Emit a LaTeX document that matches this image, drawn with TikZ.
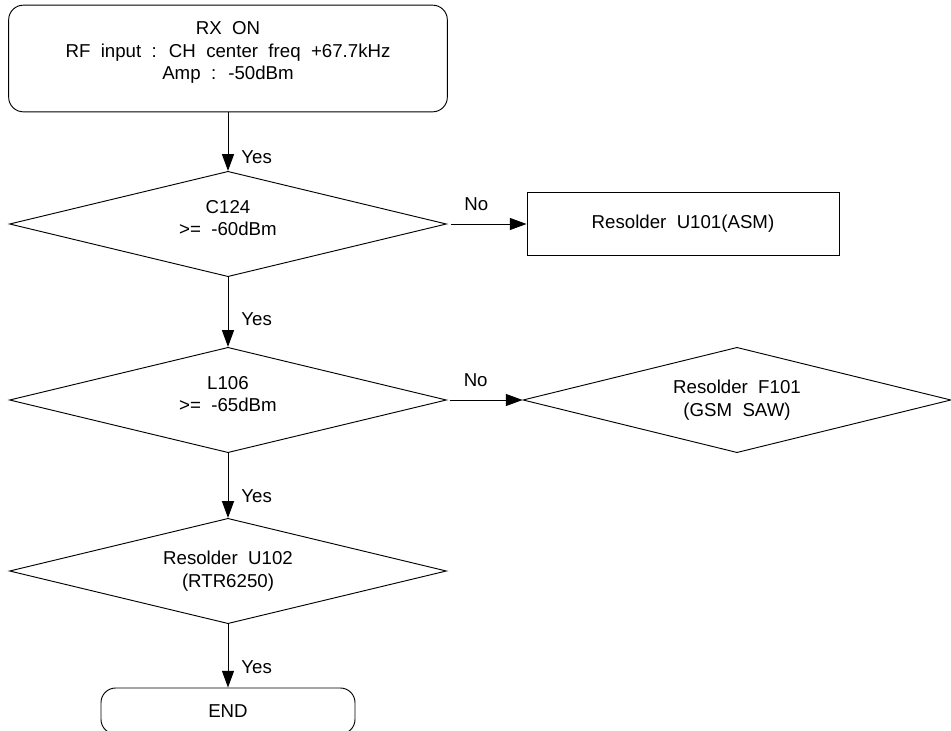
\documentclass[tikz,border=0pt]{standalone}
\usepackage{fontspec}
\setmainfont{Liberation Sans}[WordSpace=2]
\usetikzlibrary{arrows.meta,shapes.geometric}

\begin{document}
\begin{tikzpicture}[>={Triangle[length=12.5pt,width=9pt]}, x=0.75pt, y=-0.75pt, line width=0.7pt,
  every node/.style={font=\fontsize{14}{17}\selectfont, align=center},
  startbox/.style={draw, rounded corners=11pt, minimum width=329pt, minimum height=80pt, inner sep=0pt},
  testbox/.style={draw, diamond, aspect=4, minimum width=327.75pt, minimum height=79pt, inner sep=0pt},
  fixbox/.style={draw, rectangle, minimum width=234pt, minimum height=47pt, inner sep=0pt},
  uptext/.style={label={[inner sep=0pt, yshift=4.5pt]center:{#1}}},
  yeslabel/.style={anchor=west, inner sep=0pt, xshift=9.75pt},
  nolabel/.style={anchor=south, inner sep=0pt, yshift=10pt}]
\useasboundingbox (0,0) rectangle (951,731);

% main column
\node[startbox, uptext={RX ON\\RF input : CH center freq +67.7kHz\\Amp : -50dBm}] (rxon) at (228,58.5) {};
\node[testbox, uptext={C124\\>= -60dBm}] (c124) at (228,224) {};
\node[testbox, uptext={L106\\>= -65dBm}] (l106) at (228,400) {};
\node[testbox] (u102) at (228,571) {Resolder U102\\(RTR6250)};
\node[startbox, minimum width=190.5pt, minimum height=34.5pt] (done) at (228,711) {END};

% repair branches
\node[fixbox] (u101) at (683,224) {Resolder U101(ASM)};
\node[testbox, minimum width=321pt] (f101) at (737,400) {Resolder F101\\(GSM SAW)};

% Yes path
\draw[->] (rxon) -- (c124) node[yeslabel, pos=0.76] {Yes};
\draw[->] (c124) -- (l106) node[yeslabel, pos=0.6] {Yes};
\draw[->] (l106) -- (u102) node[yeslabel, pos=0.66] {Yes};
\draw[->] (u102) -- (done) node[yeslabel, pos=0.68] {Yes};

% No path
\draw[->, shorten <=3pt] (c124.east) -- (u101.west) node[nolabel, pos=0.37] {No};
\draw[->, shorten <=2pt] (l106.east) -- (f101.west) node[nolabel, pos=0.38] {No};
\end{tikzpicture}
\end{document}
